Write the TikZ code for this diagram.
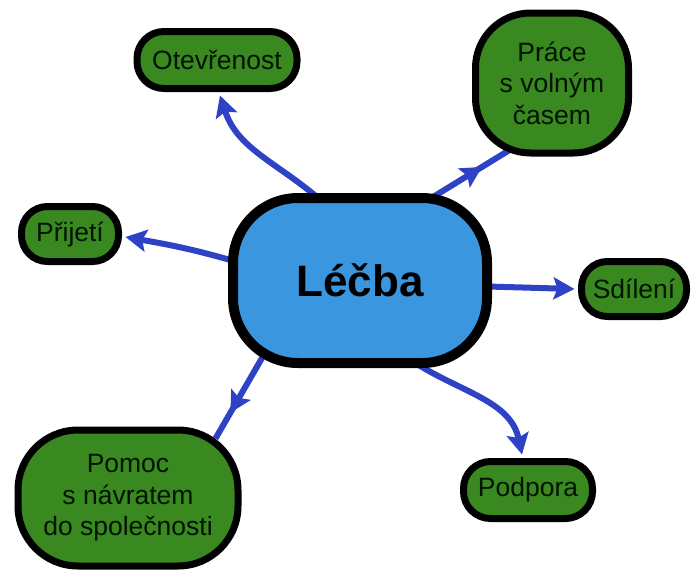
\documentclass[tikz,border=0pt]{standalone}
\usepackage{fontspec}
\setmainfont{Liberation Sans}
\usetikzlibrary{arrows.meta,decorations.markings,backgrounds,shadows}
\definecolor{arrblue}{RGB}{46,66,198}
\definecolor{midblue}{RGB}{58,150,222}
\definecolor{leafgreen}{RGB}{58,136,32}
\tikzset{
  leaf/.style={draw=black, line width=7pt, fill=leafgreen, rectangle, inner sep=0pt,
    align=center, text=black!92!green, font=\fontsize{26.5}{31.5}\selectfont,
    drop shadow={shadow xshift=1.5pt, shadow yshift=-2pt, opacity=0.25}},
  hub/.style={draw=black, line width=10pt, fill=midblue, rectangle, inner sep=0pt,
    rounded corners=65pt, minimum width=254pt, minimum height=165pt,
    font=\fontsize{44}{50}\selectfont\bfseries,
    drop shadow={shadow xshift=1.5pt, shadow yshift=-2pt, opacity=0.25}},
  conn/.style={draw=arrblue, line width=6pt, -{Stealth[length=21pt,width=22pt,inset=4pt]}},
  midconn/.style={draw=arrblue, line width=6pt, postaction={decorate},
    decoration={markings, mark=at position #1 with {\arrow{Stealth[length=21pt,width=22pt,inset=4pt]}}}}
}
\begin{document}
\begin{tikzpicture}[x=1pt,y=1pt]
\useasboundingbox (0,0) rectangle (691,-574);
\node[hub] (c) at (360,-280.5) {Léčba};
\node[leaf, minimum width=160pt, minimum height=57pt, rounded corners=27pt] (ot) at (217,-60) {Otevřenost};
\node[leaf, minimum width=97pt, minimum height=55pt, rounded corners=26pt] (pj) at (70,-234) {Přijetí};
\node[leaf, minimum width=153pt, minimum height=140pt, rounded corners=55pt] (pr) at (552,-83) {Práce\\s volným\\časem};
\node[leaf, minimum width=105pt, minimum height=55pt, rounded corners=26pt] (sd) at (634,-289) {Sdílení};
\node[leaf, minimum width=220pt, minimum height=136pt, rounded corners=60pt] (pm) at (128,-498) {Pomoc\\s návratem\\do společnosti};
\node[leaf, minimum width=129pt, minimum height=57pt, rounded corners=27pt] (pd) at (528,-490) {Podpora};
\begin{scope}[on background layer]
\draw[conn] ([xshift=-43pt,yshift=-4pt]c.north) to[out=140,in=-72] ([xshift=3pt,yshift=-3.5pt]ot.south);
\draw[conn] ([xshift=4pt,yshift=20pt]c.west) to[out=164,in=-10] ([xshift=3.5pt,yshift=-3pt]pj.east);
\draw[conn] ([xshift=-4pt,yshift=-6pt]c.east) -- ([xshift=-3.5pt]sd.west);
\draw[conn] ([xshift=57pt,yshift=4pt]c.south) to[out=-32,in=102] ([xshift=-6pt,yshift=3.5pt]pd.north);
\draw[midconn=0.62] ([xshift=73pt,yshift=-4pt]c.north) -- ([xshift=40pt,yshift=8pt]pr.south west);
\draw[midconn=0.68] ([xshift=-98pt,yshift=10pt]c.south) -- ([xshift=-26pt,yshift=-12pt]pm.north east);
\end{scope}
\end{tikzpicture}
\end{document}
